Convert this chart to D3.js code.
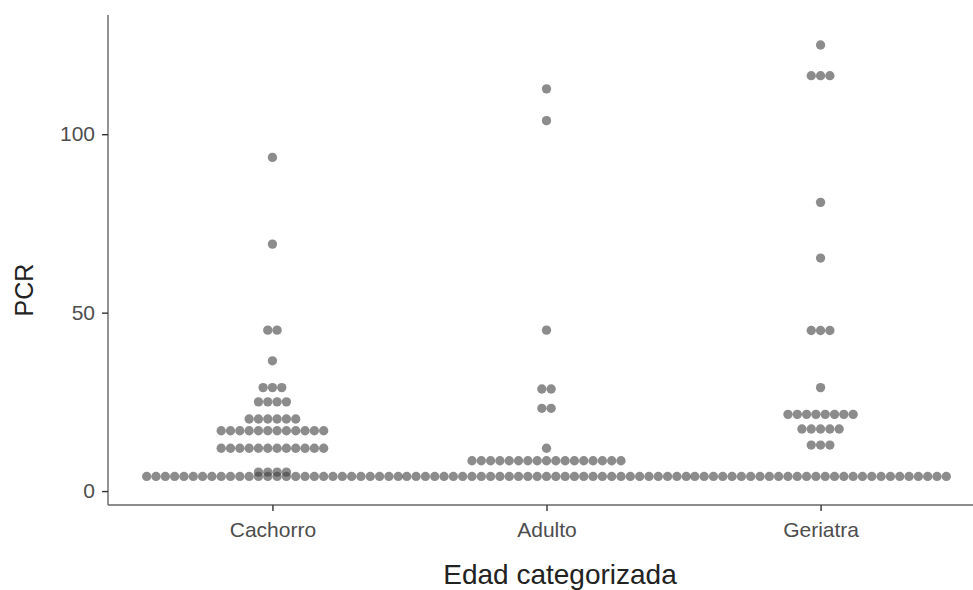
<!DOCTYPE html>
<html>
<head>
<meta charset="utf-8">
<script src="https://cdn.jsdelivr.net/npm/d3@7"></script>
<style>
  body { margin: 0; background: #fff; }
  svg { display: block; font-family: "Liberation Sans", Arial, sans-serif; }
</style>
</head>
<body>
<div id="chart"></div>
<script>
// groups on the x axis
const groups = ["Cachorro", "Adulto", "Geriatra"];

// dot stacks: bin value (PCR) and number of dots in the stack
const cachorroBins = [93.5, 69.2, 45.1, 36.5, 29.0, 25.0, 20.2, 16.9, 12.0, 5.3, 4.1];
const cachorroCounts = [1, 1, 2, 1, 3, 4, 6, 12, 12, 4, 28];

const adultoBins = [112.7, 103.8, 45.1, 28.6, 23.2, 12.0, 8.5, 4.1];
const adultoCounts = [1, 1, 1, 2, 2, 1, 17, 31];

const geriatraBins = [125.0, 116.4, 80.9, 65.3, 45.0, 29.0, 21.5, 17.4, 12.9, 4.1];
const geriatraCounts = [1, 3, 1, 1, 3, 1, 8, 5, 3, 28];

const yTicks = [0, 50, 100];
const binwidth = 2.61;

const width = 973, height = 590;
const margin = {top: 15, right: 0, bottom: 85, left: 108};

const svg = d3.select("#chart")
  .append("svg")
  .attr("width", width)
  .attr("height", height);

const x = d3.scalePoint()
  .domain(groups)
  .range([margin.left, 985])
  .padding(0.6);

const y = d3.scaleLinear()
  .domain([-3.9, 133.4])
  .range([height - margin.bottom, margin.top]);

// one dot per row entry, stacked sideways around the group centre
const stacks = [
  {group: "Cachorro", bins: cachorroBins, counts: cachorroCounts},
  {group: "Adulto", bins: adultoBins, counts: adultoCounts},
  {group: "Geriatra", bins: geriatraBins, counts: geriatraCounts}
];

const dotSize = y(0) - y(binwidth);
const dots = [];
stacks.forEach(s => {
  s.bins.forEach((v, i) => {
    const n = s.counts[i];
    for (let k = 0; k < n; k++) {
      dots.push({group: s.group, value: v, offset: k - (n - 1) / 2});
    }
  });
});

svg.append("g")
  .selectAll("circle")
  .data(dots)
  .join("circle")
  .attr("cx", d => x(d.group) + d.offset * dotSize)
  .attr("cy", d => y(d.value))
  .attr("r", dotSize / 2)
  .attr("fill", "#404040")
  .attr("fill-opacity", 0.6);

// axes
const yAxis = svg.append("g")
  .attr("transform", `translate(${margin.left},0)`)
  .call(d3.axisLeft(y).tickValues(yTicks).tickSize(6).tickPadding(7));

const xAxis = svg.append("g")
  .attr("transform", `translate(0,${height - margin.bottom})`)
  .call(d3.axisBottom(x).tickSize(6).tickPadding(11));

[xAxis, yAxis].forEach(a => {
  a.select(".domain").attr("stroke", "#666").attr("stroke-width", 1.4);
  a.selectAll(".tick line").attr("stroke", "#333").attr("stroke-width", 1.4);
  a.selectAll(".tick text")
    .attr("fill", "#4d4d4d")
    .style("font-size", "21px")
    .style("font-family", "'Liberation Sans', Arial, sans-serif");
});
// keep the axis lines inside the panel
xAxis.select(".domain").attr("d", `M${margin.left},0H${width}`);
yAxis.select(".domain").attr("d", `M0,${y.range()[0]}V${margin.top}`);

// axis titles
svg.append("text")
  .attr("x", 560)
  .attr("y", 584)
  .attr("text-anchor", "middle")
  .style("font-size", "28px")
  .attr("fill", "#222")
  .text("Edad categorizada");

svg.append("text")
  .attr("transform", "translate(33, 290) rotate(-90)")
  .attr("text-anchor", "middle")
  .style("font-size", "25px")
  .attr("fill", "#222")
  .text("PCR");
</script>
</body>
</html>
